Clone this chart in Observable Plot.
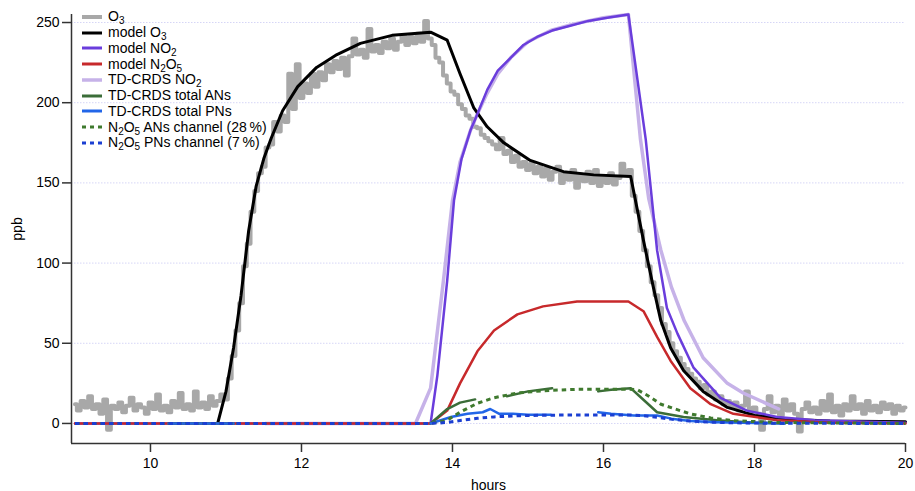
<!DOCTYPE html>
<html><head><meta charset="utf-8">
<script src="https://cdn.jsdelivr.net/npm/d3@7"></script>
<script src="https://cdn.jsdelivr.net/npm/@observablehq/plot@0.6"></script>
<style>
body{margin:0;background:#fff;font-family:"Liberation Sans",Arial,Helvetica,sans-serif;}
#wrap{position:relative;width:915px;height:491px;}
#legend{position:absolute;left:82px;top:9px;font-size:14px;color:#000;}
.row{display:flex;align-items:center;height:15.75px;white-space:nowrap;}
.row span{line-height:13px;display:inline-block;}
.row svg{margin-right:6px;flex:none;}
sub{font-size:10px;vertical-align:-3px;line-height:0;}
</style></head><body><div id="wrap"><div id="legend"></div></div>
<script>
// ---- data ----
const xTicks = [10, 12, 14, 16, 18, 20];
const yTicks = [0, 50, 100, 150, 200, 250];
const o3Start = 9, o3Step = 0.05;
const o3Values = [
 12, 8, 14, 10, 17, 9, 12, 6, 15, -4, 11, 9, 13, 7, 11, 16, 8, 12, 10, 6,
 13, 9, 18, 8, 11, 7, 14, 10, 19, 9, 12, 8, 20, 10, 13, 9, 17, 11, 14, 18,
 15, 28, 42, 58, 75, 98, 112, 132, 145, 156, 160, 172, 174, 188, 182, 192, 188, 218, 196, 224,
 203, 212, 206, 218, 210, 219, 214, 224, 219, 226, 221, 228, 217, 229, 240, 230, 233, 228, 246, 232,
 236, 231, 238, 234, 240, 233, 238, 242, 236, 241, 237, 243, 238, 251, 240, 236, 228, 225, 217, 212,
 207, 205, 199, 196, 192, 190, 185, 184, 180, 178, 176, 174, 171, 178, 168, 170, 163, 167, 160, 163,
 158, 162, 156, 160, 154, 159, 152, 157, 160, 150, 156, 152, 158, 147, 155, 151, 157, 150, 158, 148,
 154, 150, 156, 149, 153, 162, 155, 158, 142, 132, 120, 108, 98, 88, 80, 72, 62, 57, 50, 45,
 41, 37, 34, 31, 28, 26, 22, 24, 18, 20, 15, 17, 12, 14, 10, 13, 8, 11, 20, 7,
 10, 6, -4, 9, 17, 7, 11, 5, 15, 8, 12, 6, -5, 9, 13, 7, 10, 6, 14, 8,
 18, 7, 11, 5, 12, 8, 17, 9, 12, 6, 14, 8, 11, 7, 13, 9, 12, 6, 11, 8,
 10
];
const modelO3 = [[10.89,0],[11.0,20],[11.1,47],[11.2,80],[11.3,120],[11.4,148],[11.5,165],[11.6,178],[11.75,195],[11.95,210],[12.2,222],[12.47,230],[12.78,237],[13.2,242],[13.71,244],[13.93,239],[14.1,218],[14.28,197],[14.46,185],[14.68,175],[15.03,164],[15.47,157],[15.87,155],[16.36,154],[16.53,114],[16.66,85],[16.76,64],[16.89,47],[17.06,33],[17.32,20],[17.64,10],[18.0,5],[18.5,2.5],[19.0,1.5],[20.0,1]];
const modelNO2 = [[9,0],[13.71,0],[13.8,30],[13.93,89],[14.02,139],[14.12,165],[14.24,183],[14.33,193],[14.46,208],[14.6,220],[14.77,228],[14.94,236],[15.12,241],[15.32,245],[15.56,248],[15.8,251],[16.05,253],[16.33,255],[16.56,177],[16.71,108],[16.84,72],[16.98,56],[17.19,35],[17.55,16],[17.9,8],[18.3,4],[18.8,2],[19.5,1],[20,0.5]];
const modelN2O5 = [[9,0],[13.71,0],[13.93,8],[14.1,25],[14.33,45],[14.55,58],[14.86,68],[15.2,73],[15.65,76],[16.33,76],[16.53,70],[16.71,54],[16.89,39],[17.15,22],[17.42,12],[17.72,6],[18.3,2],[19,0.5],[20,0]];
const tdNO2 = [[11.52,0],[13.51,0],[13.71,22],[13.88,89],[14.0,139],[14.1,163],[14.24,183],[14.33,193],[14.46,206],[14.6,218],[14.77,228],[15.0,238],[15.3,245],[15.6,249],[16.0,253],[16.33,255],[16.49,177],[16.6,140],[16.76,108],[16.9,85],[17.07,64],[17.32,41],[17.64,25],[17.85,19],[18.32,9]];
const tdANs = [[10.24,0],[11.1,0],[11.1,null],[13.71,0],[13.93,9],[14.1,13],[14.3,15],[14.3,null],[14.72,17],[15.0,20],[15.32,22],[15.32,null],[15.93,20],[16.1,21],[16.36,22],[16.5,16],[16.71,7],[17.06,4],[17.5,2],[18.0,0.5],[18.4,0]];
const tdPNs = [[10.24,0],[11.1,0],[11.1,null],[13.71,0],[13.98,4],[14.2,6],[14.4,7],[14.5,9],[14.62,6],[14.8,6],[15.0,5.5],[15.3,5.5],[15.3,null],[15.93,7],[16.1,6],[16.4,5],[16.71,5],[16.9,3],[17.15,1.5],[17.5,0.8],[18.0,0.3],[18.4,0]];
const anChannel = [[9,0],[13.71,0],[13.93,2],[14.1,7],[14.33,12.6],[14.55,16],[14.86,19],[15.2,20.4],[15.65,21.3],[16.33,21.3],[16.45,21],[16.6,17],[16.76,12],[16.95,9],[17.15,6],[17.42,3.4],[17.72,1.7],[18.3,0.6],[20,0]];
const pnChannel = [[9,0],[13.71,0],[13.93,0.6],[14.1,1.8],[14.33,3.2],[14.55,4.1],[14.86,4.8],[15.2,5.1],[15.65,5.3],[16.33,5.3],[16.53,4.9],[16.71,3.8],[16.89,2.7],[17.15,1.5],[17.42,0.8],[17.72,0.4],[18.3,0.1],[20,0]];

// ---- styles ----
const C = {o3:"#a8a8a8", mO3:"#000000", mNO2:"#6a3ddc", mN2O5:"#c7292b", tdNO2:"#c6b2e8", tdAN:"#3b6d38", tdPN:"#2266e8", anCh:"#3f7a2e", pnCh:"#1b3fd2"};
const o3 = o3Values.map((v,i)=>[o3Start + i*o3Step, v]);
const xMin = 8.954, yMin = -12.5, yMax = 255;
const L = (data, opts) => Plot.line(data, {x: d => d[0], y: d => d[1], ...opts});

const chart = Plot.plot({
  width: 915, height: 491,
  marginLeft: 71, marginRight: 10, marginTop: 14, marginBottom: 48,
  x: {domain: [xMin, 20]},
  y: {domain: [yMin, yMax]},
  style: {fontFamily: '"Liberation Sans", Arial, Helvetica, sans-serif', fontSize: "14px", background: "white", color: "#000"},
  marks: [
    Plot.ruleY(yTicks, {x1: xMin, x2: 20, stroke: "#d6d6f6", strokeWidth: 1, strokeDasharray: "1.5,1.5"}),
    L(o3, {stroke: C.o3, strokeWidth: 4, curve: "step"}),
    L(tdNO2, {stroke: C.tdNO2, strokeWidth: 3.5}),
    L(modelO3, {stroke: C.mO3, strokeWidth: 3}),
    L(modelNO2, {stroke: C.mNO2, strokeWidth: 2.5}),
    L(modelN2O5, {stroke: C.mN2O5, strokeWidth: 2.5}),
    L(tdANs, {stroke: C.tdAN, strokeWidth: 2.5}),
    L(tdPNs, {stroke: C.tdPN, strokeWidth: 2.5}),
    L(anChannel, {stroke: C.anCh, strokeWidth: 3, strokeDasharray: "4.5,4", strokeLinecap: "butt"}),
    L(pnChannel, {stroke: C.pnCh, strokeWidth: 3, strokeDasharray: "4.5,4", strokeLinecap: "butt"}),
    Plot.ruleX([xMin], {y1: yMin, y2: yMax, stroke: "#333", strokeWidth: 1.5}),
    Plot.ruleY([yMin], {x1: xMin, x2: 20, stroke: "#333", strokeWidth: 1.5}),
    Plot.axisY({ticks: yTicks, tickSize: 9, tickPadding: 3, stroke: "#333", strokeWidth: 1.5, label: "ppb", labelAnchor: "center", labelArrow: "none", labelOffset: 59, fontSize: 14}),
    Plot.axisX({ticks: xTicks, tickSize: 9, tickPadding: 6, stroke: "#333", strokeWidth: 1.5, label: "hours", labelAnchor: "center", labelArrow: "none", labelOffset: 46, fontSize: 14})
  ]
});
document.getElementById("wrap").prepend(chart);

// ---- legend ----
const legendItems = [
  {html: "O<sub>3</sub>", color: C.o3, w: 4},
  {html: "model O<sub>3</sub>", color: C.mO3, w: 3},
  {html: "model NO<sub>2</sub>", color: C.mNO2, w: 3},
  {html: "model N<sub>2</sub>O<sub>5</sub>", color: C.mN2O5, w: 3},
  {html: "TD-CRDS NO<sub>2</sub>", color: C.tdNO2, w: 3.5},
  {html: "TD-CRDS total ANs", color: C.tdAN, w: 3},
  {html: "TD-CRDS total PNs", color: C.tdPN, w: 3},
  {html: "N<sub>2</sub>O<sub>5</sub> ANs channel (28&#8201;%)", color: C.anCh, w: 3, dash: "4,4"},
  {html: "N<sub>2</sub>O<sub>5</sub> PNs channel (7&#8201;%)", color: C.pnCh, w: 3, dash: "4,4"}
];
const leg = document.getElementById("legend");
for (const it of legendItems) {
  const row = document.createElement("div");
  row.className = "row";
  row.innerHTML = `<svg width="20" height="8"><line x1="0" x2="20" y1="4" y2="4" stroke="${it.color}" stroke-width="${it.w}" ${it.dash ? `stroke-dasharray="${it.dash}"` : ""}/></svg><span>${it.html}</span>`;
  leg.appendChild(row);
}
</script>
</body></html>
